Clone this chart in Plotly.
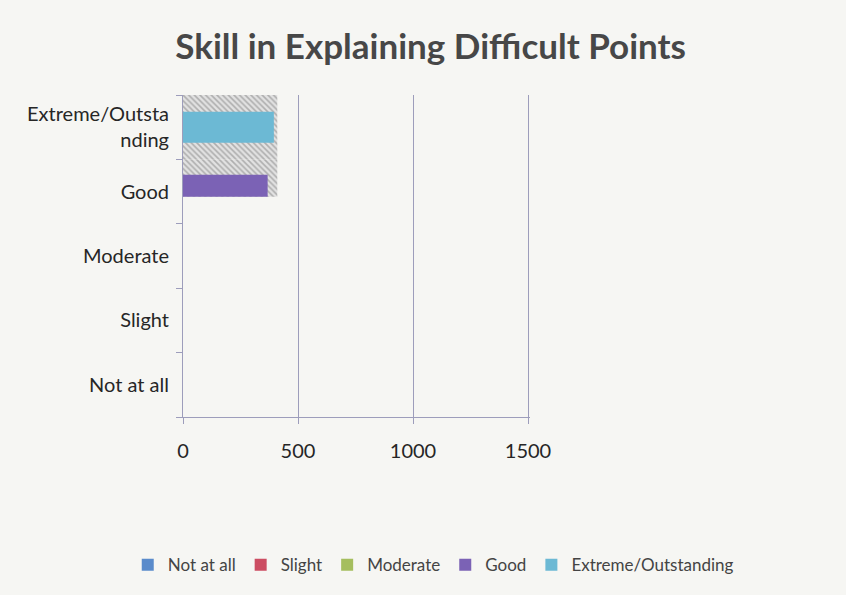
import plotly.graph_objects as go

# categories bottom to top, as they appear on the axis
categories = ['Not at all', 'Slight', 'Moderate', 'Good', 'Extreme/Outstanding']
tick_labels = ['Not at all', 'Slight', 'Moderate', 'Good', 'Extreme/Outsta<br>nding']
values = [0, 0, 0, 368, 395]
colors = ['#5A8BCB', '#CC4D62', '#A5BE5E', '#7B62B5', '#6CB9D4']

# grey hatched shadow behind the two bars (scan of a 3-D effect)
shadow_cats = ['Good', 'Extreme/Outstanding']
shadow_values = [410, 410]

x_ticks = [0, 500, 1000, 1500]

fig = go.Figure()

fig.add_trace(go.Bar(
    y=shadow_cats, x=shadow_values, orientation='h',
    width=[0.58, 1.0], offset=[-0.08, -0.5],
    marker=dict(color='rgba(255,255,255,0)', line=dict(width=0),
                pattern=dict(shape='\\', fgcolor='#7a7a7a', bgcolor='#e2e2e2',
                             size=4, solidity=0.4)),
    showlegend=False, hoverinfo='skip'
))

bar_width = {'Good': 0.34, 'Extreme/Outstanding': 0.48}
bar_offset = {'Good': -0.08, 'Extreme/Outstanding': -0.24}

for cat, val, col in zip(categories, values, colors):
    fig.add_trace(go.Bar(
        y=[cat], x=[val], orientation='h', name=cat,
        marker=dict(color=col, line=dict(width=0)),
        width=bar_width.get(cat, 0.4), offset=bar_offset.get(cat, -0.2),
    ))

# wide margins box so the horizontal legend has room; plot area set by domain
W, ML, MR = 846, 10, 10
gw = W - ML - MR

fig.update_layout(
    width=W, height=595,
    paper_bgcolor='#f6f6f3', plot_bgcolor='rgba(0,0,0,0)',
    barmode='overlay',
    font=dict(family='Lato, Open Sans, sans-serif', size=20, color='#262626'),
    title=dict(text='<b>Skill in Explaining Difficult Points</b>',
               x=0.509, xanchor='center', y=0.921, yanchor='middle',
               font=dict(size=35, color='#474747')),
    margin=dict(l=ML, r=MR, t=95, b=178, autoexpand=False),
    # range runs a little past 1500 so the last gridline is kept
    xaxis=dict(domain=[(183 - ML) / gw, (530.3 - ML) / gw],
               range=[0, 1510], tickvals=x_ticks, showgrid=True,
               gridcolor='#9d9dbb', gridwidth=1, zeroline=False,
               showline=True, linecolor='#9d9dbb', ticks='outside',
               tickcolor='#9d9dbb', ticklen=6, ticklabelstandoff=10,
               tickfont=dict(size=20), automargin=False),
    yaxis=dict(type='category', categoryorder='array', categoryarray=categories,
               tickvals=categories, ticktext=tick_labels, tickson='boundaries',
               range=[-0.5, 4.5], showgrid=False, showline=True,
               linecolor='#9d9dbb', ticks='outside', tickcolor='#9d9dbb',
               ticklen=6, ticklabelstandoff=9, tickfont=dict(size=20),
               automargin=False),
    legend=dict(orientation='h', xref='container', yref='container',
                x=0.151, xanchor='left', y=0.05, yanchor='middle',
                font=dict(size=17, color='#444444'),
                itemwidth=30, traceorder='normal', bgcolor='rgba(0,0,0,0)'),
)

fig.write_html('out.html', config={'displayModeBar': False},
               post_script="document.body.style.margin='0';")
